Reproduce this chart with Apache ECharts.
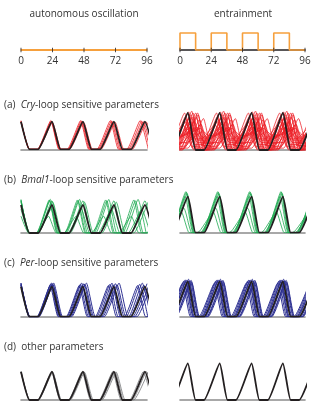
<!DOCTYPE html>
<html><head><meta charset="utf-8">
<script src="https://cdn.jsdelivr.net/npm/echarts@6/dist/echarts.min.js"></script>
<style>html,body{margin:0;padding:0;background:#fff}#c{width:328px;height:417px}</style>
</head><body><div id="c"></div>
<script>
// ---------- data (hours, relative level in %) ----------
const tickHours = [0, 24, 48, 72, 96];
const freeRunT = [0, 96];
const freeRunV = [0, 0];
const lightT = [0, 0, 12, 24, 36, 48, 60, 72, 84, 96];
const lightV = [0, 1, 0, 1, 0, 1, 0, 1, 0, 0];

const blackL = [[0,100],[6.5,0],[13,0],[23.6,100],[30.1,0],[36.6,0],[47.2,100],[53.7,0],[60.2,0],[70.8,100],[77.3,0],[83.8,0],[94.4,100],[100.9,0]];
const blackR = [[-18.5,100],[-12.5,0],[-6,0],[6,100],[12,0],[18.5,0],[30.5,100],[36.5,0],[43,0],[55,100],[61,0],[67.5,0],[79,100],[85,0],[91.5,0],[103.5,100]];

// (a) Cry-loop
const redL1 = [[0,100],[6.4,0],[12.8,0],[23.3,100],[29.7,0],[36.1,0],[46.6,100],[53,0],[59.4,0],[69.9,100],[76.3,0],[82.7,0],[93.2,100],[99.6,0]];
const redL2 = [[0,102],[6.3,0],[12.7,0],[23,102],[29.3,0],[35.7,0],[46,102],[52.3,0],[58.7,0],[69,102],[75.3,0],[81.7,0],[92,102],[98.3,0]];
const redL3 = [[0,98],[6.6,0],[13.1,0],[23.9,98],[30.5,0],[37,0],[47.8,98],[54.4,0],[60.9,0],[71.7,98],[78.3,0],[84.8,0],[95.6,98],[102.2,0]];
const redL4 = [[0,104],[6.2,0],[12.5,0],[22.7,104],[28.9,0],[35.2,0],[45.4,104],[51.6,0],[57.9,0],[68.1,104],[74.3,0],[80.6,0],[90.8,104],[97,0]];

const redR1 = [[-18,103],[-12,0],[-5.5,0],[6.5,103],[12.5,0],[19,0],[31,103],[37,0],[43.5,0],[55.5,103],[61.5,0],[68,0],[79.5,103],[85.5,0],[92,0],[104,103]];
const redR2 = [[-16.5,95],[-10.5,0],[-4,0],[8,95],[14,0],[20.5,0],[32.5,95],[38.5,0],[45,0],[57,95],[63,0],[69.5,0],[81,95],[87,0],[93.5,0],[105.5,95]];
const redR3 = [[-15,88],[-9,5],[-2.5,5],[9.5,88],[15.5,5],[22,5],[34,88],[40,5],[46.5,5],[58.5,88],[64.5,5],[71,5],[82.5,88],[88.5,5],[95,5],[107,88]];
const redR4 = [[-13.5,78],[-7.5,12],[-1,12],[11,78],[17,12],[23.5,12],[35.5,78],[41.5,12],[48,12],[60,78],[66,12],[72.5,12],[84,78],[90,12],[96.5,12],[108.5,78]];
const redR5 = [[-11.5,62],[-5.5,18],[1,18],[13,62],[19,18],[25.5,18],[37.5,62],[43.5,18],[50,18],[62,62],[68,18],[74.5,18],[86,62],[92,18],[98.5,18]];
const redR6 = [[-20,92],[-14,0],[-7.5,0],[4.5,92],[10.5,0],[17,0],[29,92],[35,0],[41.5,0],[53.5,92],[59.5,0],[66,0],[77.5,92],[83.5,0],[90,0],[102,92]];
const redR7 = [[-16,72],[-10,25],[-3.5,25],[8.5,72],[14.5,25],[21,25],[33,72],[39,25],[45.5,25],[57.5,72],[63.5,25],[70,25],[81.5,72],[87.5,25],[94,25],[106,72]];
const redR8 = [[-14,56],[-8,30],[-1.5,30],[10.5,56],[16.5,30],[23,30],[35,56],[41,30],[47.5,30],[59.5,56],[65.5,30],[72,30],[83.5,56],[89.5,30],[96,30],[108,56]];
const redR9 = [[-9.5,82],[-3.5,4],[3,4],[15,82],[21,4],[27.5,4],[39.5,82],[45.5,4],[52,4],[64,82],[70,4],[76.5,4],[88,82],[94,4],[100.5,4]];
const redR10 = [[-21.5,66],[-15.5,10],[-9,10],[3,66],[9,10],[15.5,10],[27.5,66],[33.5,10],[40,10],[52,66],[58,10],[64.5,10],[76,66],[82,10],[88.5,10],[100.5,66]];
const redR11 = [[-12.5,100],[-6.5,0],[0,0],[12,100],[18,0],[24.5,0],[36.5,100],[42.5,0],[49,0],[61,100],[67,0],[73.5,0],[85,100],[91,0],[97.5,0]];
const redR12 = [[-7.5,50],[-1.5,20],[5,20],[17,50],[23,20],[29.5,20],[41.5,50],[47.5,20],[54,20],[66,50],[72,20],[78.5,20],[90,50],[96,20]];
const redR13 = [[-17.5,85],[-11.5,0],[-5,0],[7,85],[13,0],[19.5,0],[31.5,85],[37.5,0],[44,0],[56,85],[62,0],[68.5,0],[80,85],[86,0],[92.5,0],[104.5,85]];
const redR14 = [[-10.5,95],[-4.5,0],[2,0],[14,95],[20,0],[26.5,0],[38.5,95],[44.5,0],[51,0],[63,95],[69,0],[75.5,0],[87,95],[93,0],[99.5,0]];
const redR15 = [[-21,100],[-15,5],[-8.5,5],[3.5,100],[9.5,5],[16,5],[28,100],[34,5],[40.5,5],[52.5,100],[58.5,5],[65,5],[76.5,100],[82.5,5],[89,5],[101,100]];
const redR16 = [[-13,60],[-7,35],[-0.5,35],[11.5,60],[17.5,35],[24,35],[36,60],[42,35],[48.5,35],[60.5,60],[66.5,35],[73,35],[84.5,60],[90.5,35],[97,35]];
const redR17 = [[-8.5,70],[-2.5,10],[4,10],[16,70],[22,10],[28.5,10],[40.5,70],[46.5,10],[53,10],[65,70],[71,10],[77.5,10],[89,70],[95,10],[101.5,10]];
const redR18 = [[-15.5,105],[-9.5,0],[-3,0],[9,105],[15,0],[21.5,0],[33.5,105],[39.5,0],[46,0],[58,105],[64,0],[70.5,0],[82,105],[88,0],[94.5,0],[106.5,105]];
const redR19 = [[-19.5,80],[-13.5,15],[-7,15],[5,80],[11,15],[17.5,15],[29.5,80],[35.5,15],[42,15],[54,80],[60,15],[66.5,15],[78,80],[84,15],[90.5,15],[102.5,80]];
const redR20 = [[-12,88],[-6,8],[0.5,8],[12.5,88],[18.5,8],[25,8],[37,88],[43,8],[49.5,8],[61.5,88],[67.5,8],[74,8],[85.5,88],[91.5,8],[98,8]];
const redR21 = [[-14.5,100],[-8.5,0],[-2,0],[10,100],[16,0],[22.5,0],[34.5,100],[40.5,0],[47,0],[59,100],[65,0],[71.5,0],[83,100],[89,0],[95.5,0],[107.5,100]];
const redR22 = [[-6.5,85],[-0.5,5],[6,5],[18,85],[24,5],[30.5,5],[42.5,85],[48.5,5],[55,5],[67,85],[73,5],[79.5,5],[91,85],[97,5]];
const redR23 = [[-17,60],[-11,20],[-4.5,20],[7.5,60],[13.5,20],[20,20],[32,60],[38,20],[44.5,20],[56.5,60],[62.5,20],[69,20],[80.5,60],[86.5,20],[93,20],[105,60]];
const redR24 = [[-11,100],[-5,0],[1.5,0],[13.5,100],[19.5,0],[26,0],[38,100],[44,0],[50.5,0],[62.5,100],[68.5,0],[75,0],[86.5,100],[92.5,0],[99,0]];
const redR25 = [[-20.5,75],[-14.5,30],[-8,30],[4,75],[10,30],[16.5,30],[28.5,75],[34.5,30],[41,30],[53,75],[59,30],[65.5,30],[77,75],[83,30],[89.5,30],[101.5,75]];
const redR26 = [[-9,58],[-3,40],[3.5,40],[15.5,58],[21.5,40],[28,40],[40,58],[46,40],[52.5,40],[64.5,58],[70.5,40],[77,40],[88.5,58],[94.5,40],[101,40]];

// (b) Bmal1-loop
const greenL1 = [[0,115],[6,0],[12,0],[21.8,115],[27.8,0],[33.8,0],[43.6,115],[49.6,0],[55.6,0],[65.4,115],[71.4,0],[77.4,0],[87.2,115],[93.2,0],[99.2,0]];
const greenL2 = [[0,118],[5.9,0],[11.8,0],[21.5,118],[27.4,0],[33.3,0],[43,118],[48.9,0],[54.8,0],[64.5,118],[70.4,0],[76.3,0],[86,118],[91.9,0],[97.8,0]];
const greenL3 = [[0,120],[6.1,0],[12.3,0],[22.3,120],[28.4,0],[34.6,0],[44.6,120],[50.7,0],[56.9,0],[66.9,120],[73,0],[79.2,0],[89.2,120],[95.3,0]];
const greenL4 = [[0,85],[6.3,0],[12.7,0],[23,85],[29.3,0],[35.7,0],[46,85],[52.3,0],[58.7,0],[69,85],[75.3,0],[81.7,0],[92,85],[98.3,0]];
const greenL5 = [[0,115],[6.5,0],[13,0],[23.6,115],[30.1,0],[36.6,0],[47.2,115],[53.7,0],[60.2,0],[70.8,115],[77.3,0],[83.8,0],[94.4,115],[100.9,0]];
const greenL6 = [[0,110],[6.7,0],[13.3,0],[24.2,110],[30.9,0],[37.5,0],[48.4,110],[55.1,0],[61.7,0],[72.6,110],[79.3,0],[85.9,0],[96.8,110]];
const greenL7 = [[0,60],[5.8,0],[11.6,0],[21,60],[26.8,0],[32.6,0],[42,60],[47.8,0],[53.6,0],[63,60],[68.8,0],[74.6,0],[84,60],[89.8,0],[95.6,0],[105,60]];

const greenR1 = [[-19.5,112],[-13.5,0],[-7,0],[5,112],[11,0],[17.5,0],[29.5,112],[35.5,0],[42,0],[54,112],[60,0],[66.5,0],[78,112],[84,0],[90.5,0],[102.5,112]];
const greenR2 = [[-19,108],[-13,0],[-6.5,0],[5.5,108],[11.5,0],[18,0],[30,108],[36,0],[42.5,0],[54.5,108],[60.5,0],[67,0],[78.5,108],[84.5,0],[91,0],[103,108]];
const greenR3 = [[-20,114],[-14,0],[-7.5,0],[4.5,114],[10.5,0],[17,0],[29,114],[35,0],[41.5,0],[53.5,114],[59.5,0],[66,0],[77.5,114],[83.5,0],[90,0],[102,114]];
const greenR4 = [[-20.5,100],[-14.5,0],[-8,0],[4,100],[10,0],[16.5,0],[28.5,100],[34.5,0],[41,0],[53,100],[59,0],[65.5,0],[77,100],[83,0],[89.5,0],[101.5,100]];
const greenR5 = [[-21.5,68],[-15.5,0],[-9,0],[3,68],[9,0],[15.5,0],[27.5,68],[33.5,0],[40,0],[52,68],[58,0],[64.5,0],[76,68],[82,0],[88.5,0],[100.5,68]];
const greenR6 = [[-23.5,58],[-17.5,0],[-11,0],[1,58],[7,0],[13.5,0],[25.5,58],[31.5,0],[38,0],[50,58],[56,0],[62.5,0],[74,58],[80,0],[86.5,0],[98.5,58]];

// (c) Per-loop
const blueL1 = [[0,108],[6.2,0],[12.4,0],[22.6,108],[28.8,0],[35,0],[45.2,108],[51.4,0],[57.6,0],[67.8,108],[74,0],[80.2,0],[90.4,108],[96.6,0]];
const blueL2 = [[0,112],[6.4,0],[12.7,0],[23.1,112],[29.5,0],[35.8,0],[46.2,112],[52.6,0],[58.9,0],[69.3,112],[75.7,0],[82,0],[92.4,112],[98.8,0]];
const blueL3 = [[0,105],[6.4,0],[12.9,0],[23.4,105],[29.8,0],[36.3,0],[46.8,105],[53.2,0],[59.7,0],[70.2,105],[76.6,0],[83.1,0],[93.6,105],[100,0]];
const blueL4 = [[0,110],[6.6,0],[13.2,0],[24,110],[30.6,0],[37.2,0],[48,110],[54.6,0],[61.2,0],[72,110],[78.6,0],[85.2,0],[96,110]];
const blueL5 = [[0,106],[6.7,0],[13.4,0],[24.4,106],[31.1,0],[37.8,0],[48.8,106],[55.5,0],[62.2,0],[73.2,106],[79.9,0],[86.6,0],[97.6,106]];
const blueL6 = [[0,112],[6.8,0],[13.7,0],[24.9,112],[31.7,0],[38.6,0],[49.8,112],[56.6,0],[63.5,0],[74.7,112],[81.5,0],[88.4,0],[99.6,112]];
const blueL7 = [[0,104],[6.1,0],[12.2,0],[22.2,104],[28.3,0],[34.4,0],[44.4,104],[50.5,0],[56.6,0],[66.6,104],[72.7,0],[78.8,0],[88.8,104],[94.9,0],[101,0]];

const blueR1 = [[-21.5,102],[-15.5,0],[-9,0],[3,102],[9,0],[15.5,0],[27.5,102],[33.5,0],[40,0],[52,102],[58,0],[64.5,0],[76,102],[82,0],[88.5,0],[100.5,102]];
const blueR2 = [[-20.5,105],[-14.5,0],[-8,0],[4,105],[10,0],[16.5,0],[28.5,105],[34.5,0],[41,0],[53,105],[59,0],[65.5,0],[77,105],[83,0],[89.5,0],[101.5,105]];
const blueR3 = [[-19.5,104],[-13.5,0],[-7,0],[5,104],[11,0],[17.5,0],[29.5,104],[35.5,0],[42,0],[54,104],[60,0],[66.5,0],[78,104],[84,0],[90.5,0],[102.5,104]];
const blueR4 = [[-17.5,103],[-11.5,0],[-5,0],[7,103],[13,0],[19.5,0],[31.5,103],[37.5,0],[44,0],[56,103],[62,0],[68.5,0],[80,103],[86,0],[92.5,0],[104.5,103]];
const blueR5 = [[-16.5,100],[-10.5,0],[-4,0],[8,100],[14,0],[20.5,0],[32.5,100],[38.5,0],[45,0],[57,100],[63,0],[69.5,0],[81,100],[87,0],[93.5,0],[105.5,100]];
const blueR6 = [[-15.5,98],[-9.5,0],[-3,0],[9,98],[15,0],[21.5,0],[33.5,98],[39.5,0],[46,0],[58,98],[64,0],[70.5,0],[82,98],[88,0],[94.5,0],[106.5,98]];
const blueR7 = [[-22.5,96],[-16.5,0],[-10,0],[2,96],[8,0],[14.5,0],[26.5,96],[32.5,0],[39,0],[51,96],[57,0],[63.5,0],[75,96],[81,0],[87.5,0],[99.5,96]];
const blueR8 = [[-18,107],[-12,0],[-5.5,0],[6.5,107],[12.5,0],[19,0],[31,107],[37,0],[43.5,0],[55.5,107],[61.5,0],[68,0],[79.5,107],[85.5,0],[92,0],[104,107]];
const blueR9 = [[-20,100],[-14,0],[-7.5,0],[4.5,100],[10.5,0],[17,0],[29,100],[35,0],[41.5,0],[53.5,100],[59.5,0],[66,0],[77.5,100],[83.5,0],[90,0],[102,100]];
const blueR10 = [[-16,104],[-10,0],[-3.5,0],[8.5,104],[14.5,0],[21,0],[33,104],[39,0],[45.5,0],[57.5,104],[63.5,0],[70,0],[81.5,104],[87.5,0],[94,0],[106,104]];

// (d) other
const grayL1 = [[0,100],[6.4,0],[12.8,0],[23.3,100],[29.7,0],[36.1,0],[46.6,100],[53,0],[59.4,0],[69.9,100],[76.3,0],[82.7,0],[93.2,100],[99.6,0]];
const grayL2 = [[0,100],[6.6,0],[13.1,0],[23.9,100],[30.5,0],[37,0],[47.8,100],[54.4,0],[60.9,0],[71.7,100],[78.3,0],[84.8,0],[95.6,100],[102.2,0]];
const grayL3 = [[0,98],[6.7,0],[13.3,0],[24.2,98],[30.9,0],[37.5,0],[48.4,98],[55.1,0],[61.7,0],[72.6,98],[79.3,0],[85.9,0],[96.8,98]];

// ---------- layout / styles ----------
const FONT = '"Open Sans", "Noto Sans", sans-serif';
const TXT = '#333';
const BLACK = '#231f20';
const ORANGE = '#f6a03d';
const RED = '#ed1c24', GREEN = '#1faa52', BLUE = '#2e3192', GRAY = '#6d6e71';
const YMAX = 135;
const SMOOTH = 0.15;

const panels = [
  {left: 21, width: 126, base: 149.3, peak: 121.7, color: RED, op: 0.9, lw: 0.9, traces: [redL1, redL2, redL3, redL4], black: blackL},
  {left: 180, width: 125, base: 150, peak: 113, color: RED, op: 0.85, lw: 0.9, traces: [redR1, redR2, redR3, redR4, redR5, redR6, redR7, redR8, redR9, redR10, redR11, redR12, redR13, redR14, redR15, redR16, redR17, redR18, redR19, redR20, redR21, redR22, redR23, redR24, redR25, redR26], black: blackR},
  {left: 21, width: 126, base: 233, peak: 205, color: GREEN, op: 0.9, lw: 0.9, traces: [greenL1, greenL2, greenL3, greenL4, greenL5, greenL6, greenL7], black: blackL},
  {left: 180, width: 125, base: 232.7, peak: 196.7, color: GREEN, op: 0.9, lw: 0.9, traces: [greenR1, greenR2, greenR3, greenR4, greenR5, greenR6], black: blackR},
  {left: 21, width: 126, base: 316.7, peak: 286.7, color: BLUE, op: 1, lw: 1, traces: [blueL1, blueL2, blueL3, blueL4, blueL5, blueL6, blueL7], black: blackL},
  {left: 180, width: 125, base: 316.7, peak: 281.7, color: BLUE, op: 1, lw: 1, traces: [blueR1, blueR2, blueR3, blueR4, blueR5, blueR6, blueR7, blueR8, blueR9, blueR10], black: blackR},
  {left: 21, width: 126, base: 400, peak: 371.7, color: GRAY, op: 0.85, lw: 0.9, traces: [grayL1, grayL2, grayL3], black: blackL},
  {left: 180, width: 125, base: 400, peak: 363.3, color: GRAY, op: 0.85, lw: 0.9, traces: [], black: blackR}
];

const grid = [], xAxis = [], yAxis = [], series = [];

// top schematic axes
[{left: 21, width: 126, lineColor: ORANGE}, {left: 180, width: 125, lineColor: BLACK}].forEach((p, i) => {
  grid.push({left: p.left, width: p.width, top: 33, height: 17});
  xAxis.push({type: 'value', gridIndex: i, min: 0, max: 96, interval: 24,
    axisLine: {show: true, lineStyle: {color: p.lineColor, width: 1.6}},
    axisTick: {show: false}, splitLine: {show: false},
    axisLabel: {show: true, margin: 6, fontSize: 10, color: TXT, fontFamily: FONT}});
  yAxis.push({type: 'value', gridIndex: i, min: 0, max: 1, show: false, splitLine: {show: false}});
  series.push({type: 'scatter', xAxisIndex: i, yAxisIndex: i, symbol: 'rect', symbolSize: [1, 4.5],
    itemStyle: {color: BLACK}, data: tickHours.map(t => [t, 0]), z: 5, silent: true});
});
series.push({type: 'line', xAxisIndex: 0, yAxisIndex: 0, symbol: 'none', clip: false,
  lineStyle: {color: ORANGE, width: 1.8}, data: freeRunT.map((t, k) => [t, freeRunV[k]]), z: 3});
series.push({type: 'line', xAxisIndex: 1, yAxisIndex: 1, symbol: 'none', clip: false, step: 'end',
  lineStyle: {color: ORANGE, width: 1.6}, data: lightT.map((t, k) => [t, lightV[k]]), z: 3});

panels.forEach((p, j) => {
  const gi = j + 2;
  const h = (p.base - p.peak) * YMAX / 100;
  grid.push({left: p.left, width: p.width, top: p.base - h, height: h});
  xAxis.push({type: 'value', gridIndex: gi, min: 0, max: 96, show: true,
    axisLine: {show: true, lineStyle: {color: '#8c8c8c', width: 1.6}},
    axisTick: {show: false}, axisLabel: {show: false}, splitLine: {show: false}});
  yAxis.push({type: 'value', gridIndex: gi, min: 0, max: YMAX, show: false, splitLine: {show: false}});
  p.traces.forEach(tr => {
    series.push({type: 'line', xAxisIndex: gi, yAxisIndex: gi, symbol: 'none', smooth: SMOOTH, clip: true,
      lineStyle: {color: p.color, width: p.lw, opacity: p.op}, data: tr, z: 2, silent: true});
  });
  series.push({type: 'line', xAxisIndex: gi, yAxisIndex: gi, symbol: 'none', smooth: SMOOTH, clip: true,
    lineStyle: {color: BLACK, width: 1.8}, data: p.black, z: 4, silent: true});
});

const rich = {i: {fontStyle: 'italic', fontSize: 10, fontFamily: FONT, fill: TXT, color: TXT}};
function label(x, y, text, align) {
  return {type: 'text', x: x, y: y, silent: true,
    style: {text: text, fontSize: 10, fontFamily: FONT, fill: TXT, align: align || 'left', verticalAlign: 'middle', rich: rich}};
}

const chart = echarts.init(document.getElementById('c'), null, {renderer: 'canvas'});
chart.setOption({
  animation: false,
  backgroundColor: '#fff',
  grid, xAxis, yAxis, series,
  graphic: [
    label(84, 14, 'autonomous oscillation', 'center'),
    label(243, 14, 'entrainment', 'center'),
    label(4, 105, '(a)  {i|Cry}-loop sensitive parameters'),
    label(4, 180, '(b)  {i|Bmal1}-loop sensitive parameters'),
    label(4, 263, '(c)  {i|Per}-loop sensitive parameters'),
    label(4, 347, '(d)  other parameters')
  ]
});
</script></body></html>
